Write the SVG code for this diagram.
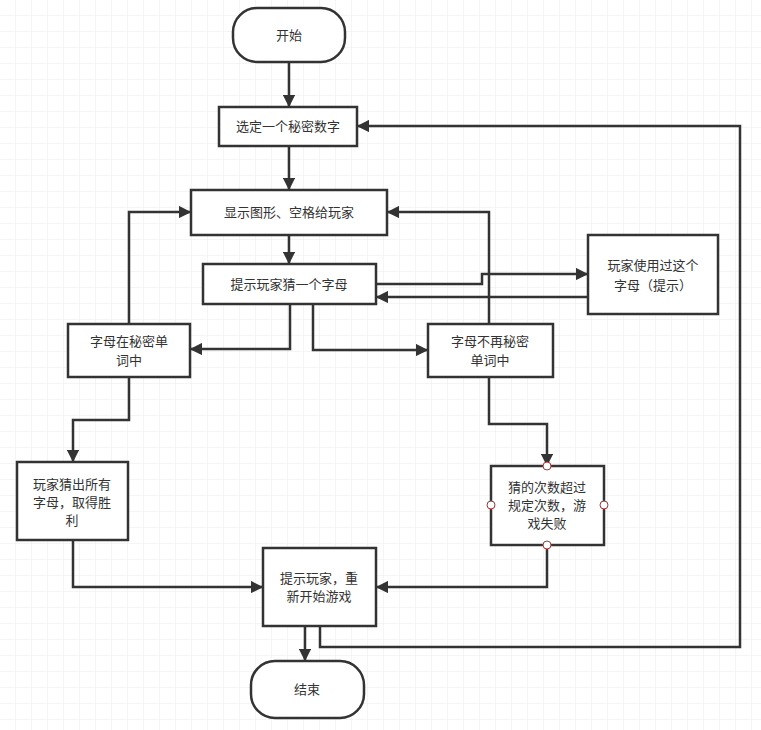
<svg xmlns="http://www.w3.org/2000/svg" width="761" height="730" viewBox="0 0 761 730">
<defs>
<pattern id="g" width="16" height="16" patternUnits="userSpaceOnUse"><path d="M16 0V16H0" fill="none" stroke="#ebebeb" stroke-width="1"/></pattern>
<marker id="a" viewBox="0 0 10 10" refX="9" refY="5" markerWidth="5" markerHeight="5" orient="auto"><path d="M0 0L10 5L0 10z" fill="#333"/></marker>
<style>
.n{fill:#fff;stroke:#333;stroke-width:2.5}
.t{font-family:"Noto Sans CJK SC","Liberation Sans",sans-serif;font-size:13px;fill:#333;text-anchor:middle}
.c{fill:none;stroke:#333;stroke-width:2.5;marker-end:url(#a)}
.p{fill:#fff;stroke:#a33;stroke-width:1}
</style>
</defs>
<rect width="761" height="730" fill="#fff"/>
<rect width="761" height="730" fill="url(#g)"/>
<g id="connectors">
<path class="c" d="M289 62V106"/>
<path class="c" d="M289 146V189"/>
<path class="c" d="M289 235V263"/>
<path class="c" d="M376 284H482V274H587"/>
<path class="c" d="M588 297H377"/>
<path class="c" d="M290 304V349H191"/>
<path class="c" d="M313 304V350H427"/>
<path class="c" d="M129 324V212H190"/>
<path class="c" d="M489 324V212H388"/>
<path class="c" d="M129 377V420H73V461"/>
<path class="c" d="M489 377V424H547V465"/>
<path class="c" d="M73 540V587H262"/>
<path class="c" d="M547 545V587H377"/>
<path class="c" d="M305 626V660"/>
<path class="c" d="M320 626V647H740V126H358"/>
</g>
<g id="start"><rect class="n" x="233" y="8" width="112" height="54" rx="24"/><text class="t" x="289" y="40">开始</text></g>
<g id="select"><rect class="n" x="219" y="107" width="138" height="39"/><text class="t" x="288" y="131">选定一个秘密数字</text></g>
<g id="show"><rect class="n" x="191" y="190" width="196" height="45"/><text class="t" x="289" y="217">显示图形、空格给玩家</text></g>
<g id="prompt"><rect class="n" x="203" y="264" width="173" height="40"/><text class="t" x="289" y="289">提示玩家猜一个字母</text></g>
<g id="used"><rect class="n" x="588" y="235" width="130" height="79"/><text class="t" x="653" y="270">玩家使用过这个</text><text class="t" x="653" y="290">字母（提示）</text></g>
<g id="inword"><rect class="n" x="68" y="324" width="122" height="53"/><text class="t" x="129" y="346">字母在秘密单</text><text class="t" x="129" y="365">词中</text></g>
<g id="notinword"><rect class="n" x="428" y="324" width="125" height="53"/><text class="t" x="490" y="346">字母不再秘密</text><text class="t" x="490" y="365">单词中</text></g>
<g id="win"><rect class="n" x="17" y="462" width="111" height="78"/><text class="t" x="72" y="489">玩家猜出所有</text><text class="t" x="72" y="507">字母，取得胜</text><text class="t" x="72" y="525">利</text></g>
<g id="lose"><rect class="n" x="491" y="466" width="113" height="79"/><text class="t" x="547" y="492">猜的次数超过</text><text class="t" x="547" y="510">规定次数，游</text><text class="t" x="547" y="528">戏失败</text>
<circle class="p" cx="547" cy="466" r="4"/><circle class="p" cx="547" cy="545" r="4"/><circle class="p" cx="491" cy="505" r="4"/><circle class="p" cx="604" cy="505" r="4"/></g>
<g id="restart"><rect class="n" x="263" y="548" width="113" height="78"/><text class="t" x="319" y="583">提示玩家，重</text><text class="t" x="319" y="601">新开始游戏</text></g>
<g id="end"><rect class="n" x="251" y="661" width="113" height="57" rx="24"/><text class="t" x="307" y="694">结束</text></g>
</svg>
